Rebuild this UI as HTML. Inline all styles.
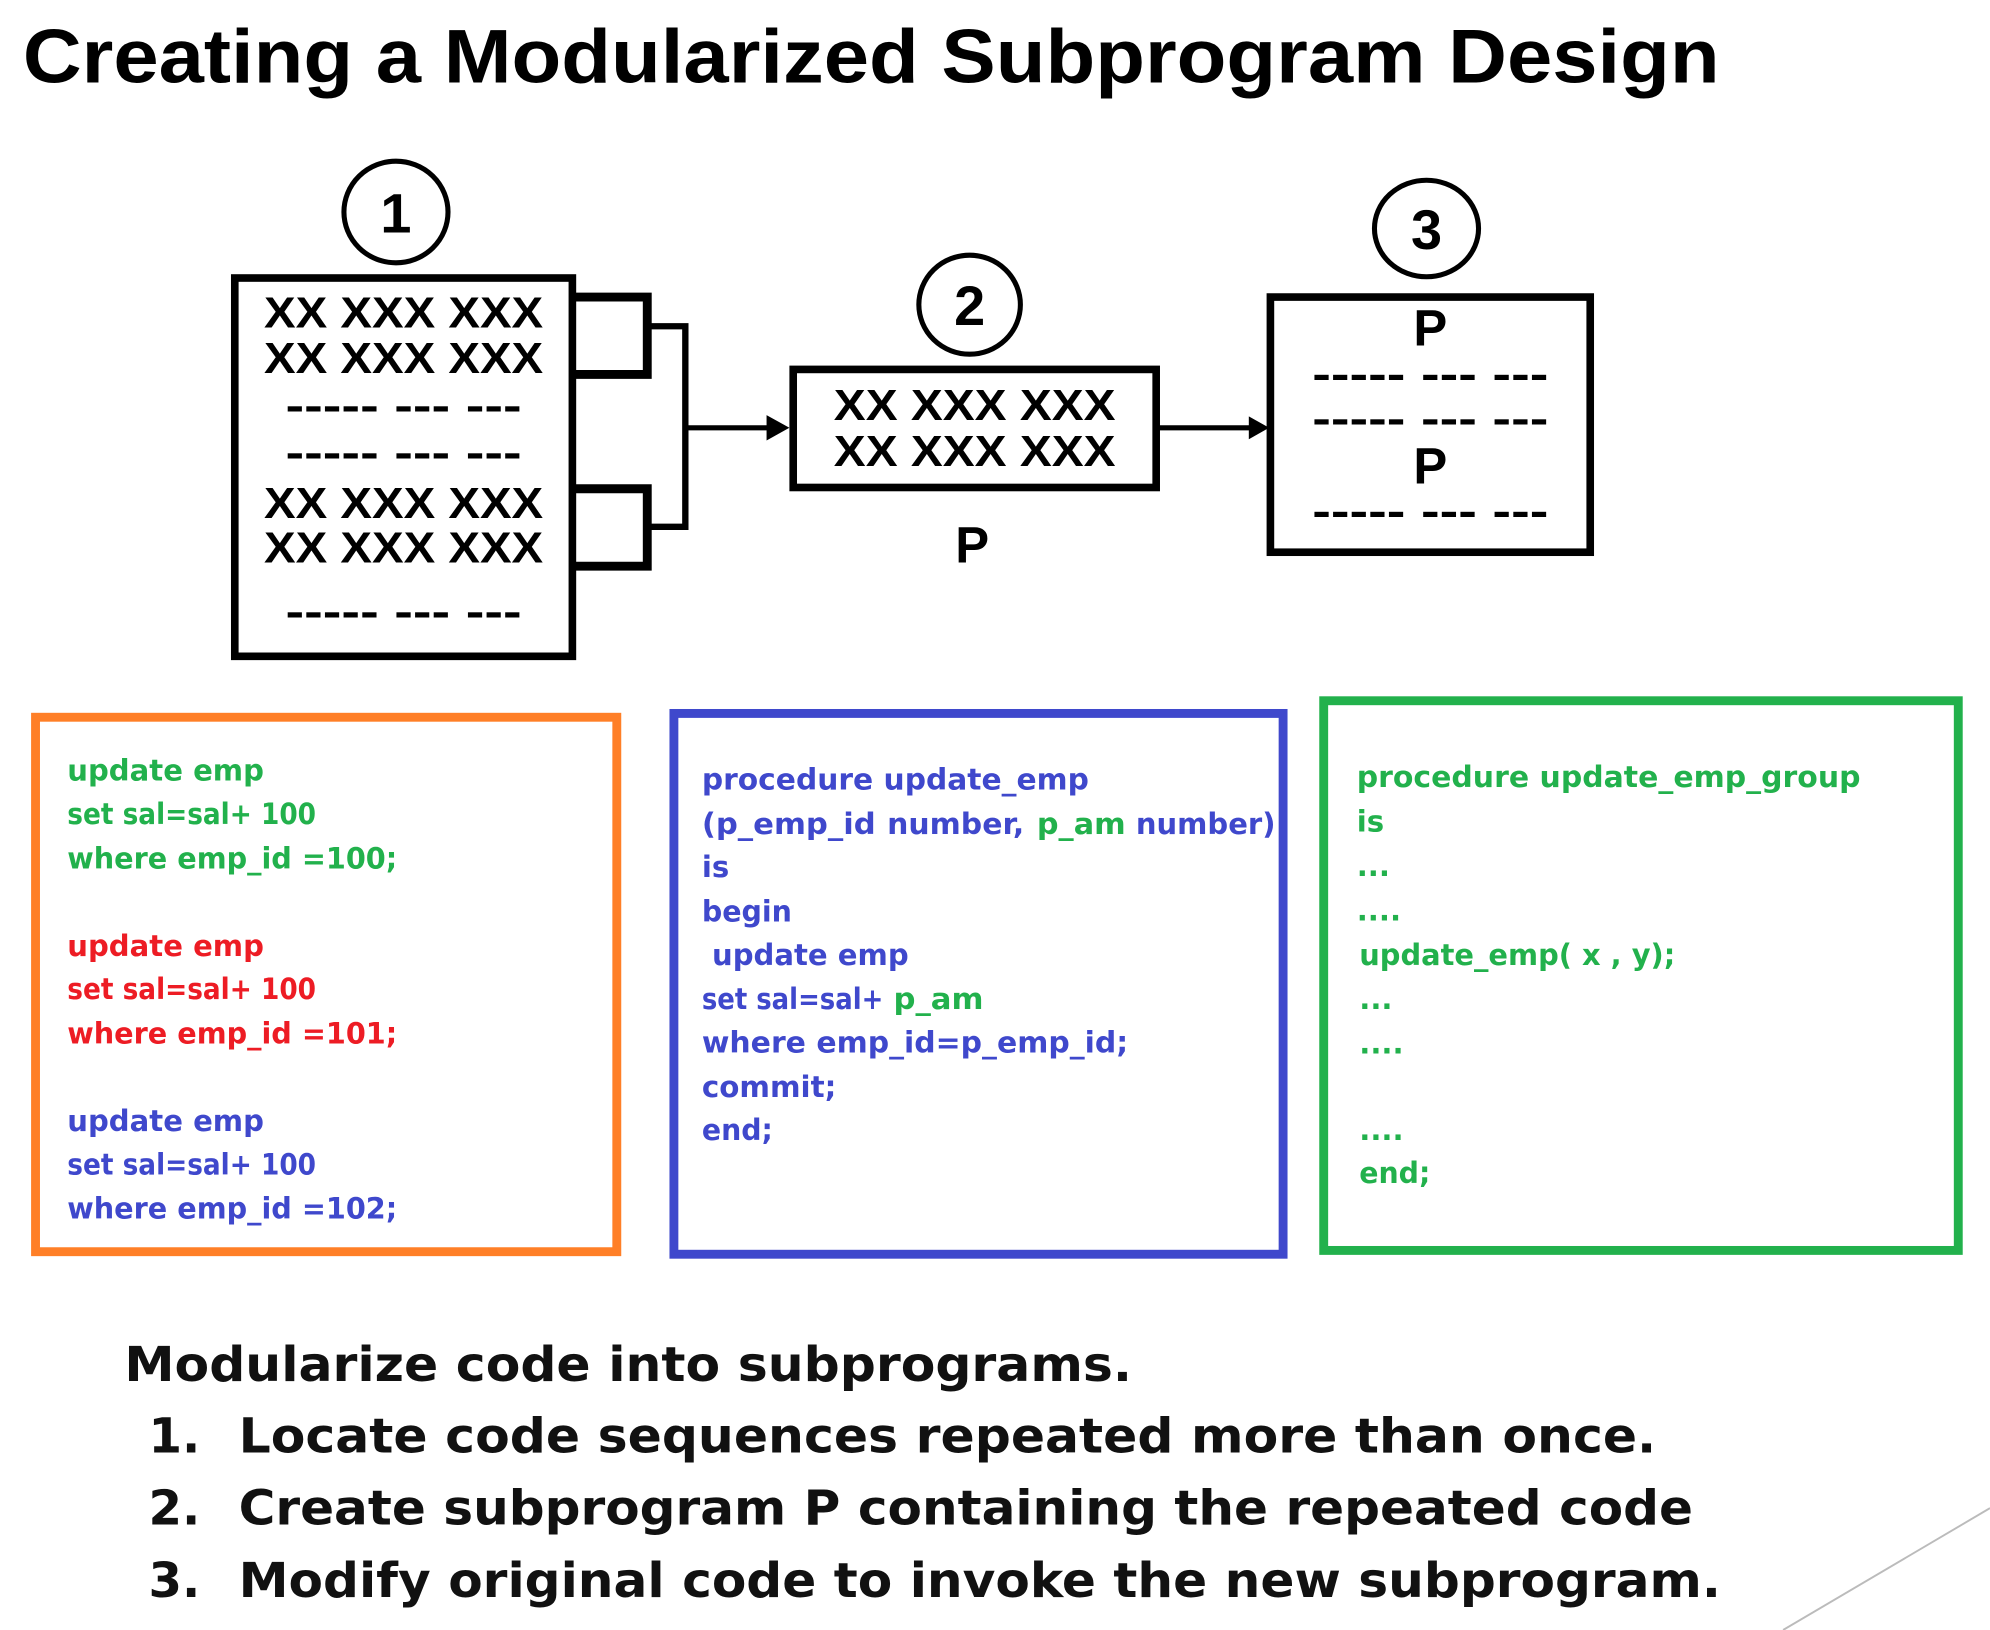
<!DOCTYPE html>
<html><head><meta charset="utf-8"><style>
html,body{margin:0;padding:0;background:#fff;}
svg{display:block;}
.c{font-family:"DejaVu Sans","Liberation Sans",sans-serif;font-weight:bold;font-size:23px;}
.b{font-family:"Liberation Sans",sans-serif;font-weight:bold;}
</style></head><body>
<svg width="1990" height="1630" viewBox="0 0 1568 1284" preserveAspectRatio="none" xmlns="http://www.w3.org/2000/svg">
<text class="b" x="18" y="65" font-size="60" textLength="1337" lengthAdjust="spacingAndGlyphs">Creating a Modularized Subprogram Design</text>

<g fill="none" stroke="#000" stroke-width="4">
<ellipse cx="312" cy="167" rx="41" ry="40"/>
<ellipse cx="764" cy="240" rx="40" ry="39"/>
<ellipse cx="1124" cy="180" rx="41" ry="38"/>
</g>
<g class="b" font-size="44" text-anchor="middle">
<text x="312" y="183">1</text>
<text x="764" y="256">2</text>
<text x="1124" y="196">3</text>
</g>

<rect x="185" y="219" width="266" height="298" fill="none" stroke="#000" stroke-width="6"/>
<g class="b" font-size="34" text-anchor="middle">
<text x="318" y="258" textLength="220" lengthAdjust="spacingAndGlyphs">XX XXX XXX</text>
<text x="318" y="294" textLength="220" lengthAdjust="spacingAndGlyphs">XX XXX XXX</text>
<text x="318" y="408" textLength="220" lengthAdjust="spacingAndGlyphs">XX XXX XXX</text>
<text x="318" y="443" textLength="220" lengthAdjust="spacingAndGlyphs">XX XXX XXX</text>
<text x="318" y="331" textLength="186" lengthAdjust="spacingAndGlyphs">----- --- ---</text>
<text x="318" y="368" textLength="186" lengthAdjust="spacingAndGlyphs">----- --- ---</text>
<text x="318" y="493" textLength="186" lengthAdjust="spacingAndGlyphs">----- --- ---</text>
</g>
<g fill="none" stroke="#000" stroke-width="7">
<polyline points="452,234 510,234 510,295 452,295"/>
<polyline points="452,385 510,385 510,446 452,446"/>
</g>
<polyline points="510,257 540,257 540,415 510,415" fill="none" stroke="#000" stroke-width="5"/>
<line x1="540" y1="337" x2="608" y2="337" stroke="#000" stroke-width="4"/>
<polygon points="622,337 604,327 604,347" fill="#000"/>

<rect x="625" y="291" width="286" height="93" fill="none" stroke="#000" stroke-width="6"/>
<g class="b" font-size="34" text-anchor="middle">
<text x="768" y="331" textLength="222" lengthAdjust="spacingAndGlyphs">XX XXX XXX</text>
<text x="768" y="367" textLength="222" lengthAdjust="spacingAndGlyphs">XX XXX XXX</text>
<text x="766" y="443" font-size="40">P</text>
</g>
<line x1="912" y1="337" x2="986" y2="337" stroke="#000" stroke-width="4"/>
<polygon points="1000,337 984,328 984,346" fill="#000"/>

<rect x="1001" y="234" width="252" height="201" fill="none" stroke="#000" stroke-width="6"/>
<g class="b" text-anchor="middle">
<text x="1127" y="272" font-size="40">P</text>
<text x="1127" y="306" font-size="34" textLength="186" lengthAdjust="spacingAndGlyphs">----- --- ---</text>
<text x="1127" y="341" font-size="34" textLength="186" lengthAdjust="spacingAndGlyphs">----- --- ---</text>
<text x="1127" y="381" font-size="40">P</text>
<text x="1127" y="414" font-size="34" textLength="186" lengthAdjust="spacingAndGlyphs">----- --- ---</text>
</g>

<rect x="28" y="565" width="458" height="421" fill="none" stroke="#FF7F27" stroke-width="7"/>
<rect x="531" y="562" width="480" height="426" fill="none" stroke="#3F48CC" stroke-width="7"/>
<rect x="1043" y="552" width="500" height="433" fill="none" stroke="#22B14C" stroke-width="7"/>

<g class="c">
<g fill="#22B14C">
<text x="53" y="615" textLength="155" lengthAdjust="spacingAndGlyphs">update emp</text>
<text x="53" y="649" textLength="196" lengthAdjust="spacingAndGlyphs">set sal=sal+ 100</text>
<text x="53" y="684" textLength="260" lengthAdjust="spacingAndGlyphs">where emp_id =100;</text>
</g>
<g fill="#ED1C24">
<text x="53" y="753" textLength="155" lengthAdjust="spacingAndGlyphs">update emp</text>
<text x="53" y="787" textLength="196" lengthAdjust="spacingAndGlyphs">set sal=sal+ 100</text>
<text x="53" y="822" textLength="260" lengthAdjust="spacingAndGlyphs">where emp_id =101;</text>
</g>
<g fill="#3F48CC">
<text x="53" y="891" textLength="155" lengthAdjust="spacingAndGlyphs">update emp</text>
<text x="53" y="925" textLength="196" lengthAdjust="spacingAndGlyphs">set sal=sal+ 100</text>
<text x="53" y="960" textLength="260" lengthAdjust="spacingAndGlyphs">where emp_id =102;</text>
</g>
<g fill="#3F48CC">
<text x="553" y="622" textLength="305" lengthAdjust="spacingAndGlyphs">procedure update_emp</text>
<text x="553" y="657" textLength="137" lengthAdjust="spacingAndGlyphs">(p_emp_id</text>
<text x="699" y="657" textLength="108" lengthAdjust="spacingAndGlyphs">number,</text>
<text x="817" y="657" fill="#22B14C" textLength="70" lengthAdjust="spacingAndGlyphs">p_am</text>
<text x="895" y="657" textLength="110" lengthAdjust="spacingAndGlyphs">number)</text>
<text x="553" y="691">is</text>
<text x="553" y="726" textLength="71" lengthAdjust="spacingAndGlyphs">begin</text>
<text x="561" y="760" textLength="155" lengthAdjust="spacingAndGlyphs">update emp</text>
<text x="553" y="795" textLength="143" lengthAdjust="spacingAndGlyphs">set sal=sal+</text>
<text x="704" y="795" fill="#22B14C" textLength="71" lengthAdjust="spacingAndGlyphs">p_am</text>
<text x="553" y="829" textLength="336" lengthAdjust="spacingAndGlyphs">where emp_id=p_emp_id;</text>
<text x="553" y="864" textLength="106" lengthAdjust="spacingAndGlyphs">commit;</text>
<text x="553" y="898" textLength="56" lengthAdjust="spacingAndGlyphs">end;</text>
</g>
<g fill="#22B14C">
<text x="1069" y="620" textLength="397" lengthAdjust="spacingAndGlyphs">procedure update_emp_group</text>
<text x="1069" y="655">is</text>
<text x="1069" y="690">...</text>
<text x="1069" y="725">....</text>
<text x="1071" y="760" textLength="249" lengthAdjust="spacingAndGlyphs">update_emp( x , y);</text>
<text x="1071" y="795">...</text>
<text x="1071" y="830">....</text>
<text x="1071" y="898">....</text>
<text x="1071" y="932" textLength="56" lengthAdjust="spacingAndGlyphs">end;</text>
</g>
</g>

<g font-family="DejaVu Sans, Liberation Sans, sans-serif" font-weight="bold" font-size="38" fill="#111">
<text x="98" y="1088" textLength="794" lengthAdjust="spacingAndGlyphs">Modularize code into subprograms.</text>
<text x="117" y="1144">1.</text>
<text x="188" y="1144" textLength="1117" lengthAdjust="spacingAndGlyphs">Locate code sequences repeated more than once.</text>
<text x="117" y="1201">2.</text>
<text x="188" y="1201" textLength="1146" lengthAdjust="spacingAndGlyphs">Create subprogram P containing the repeated code</text>
<text x="117" y="1258">3.</text>
<text x="188" y="1258" textLength="1168" lengthAdjust="spacingAndGlyphs">Modify original code to invoke the new subprogram.</text>
</g>
<line x1="1405" y1="1284" x2="1568" y2="1188" stroke="#bbb" stroke-width="1.5"/>
</svg>
</body></html>
